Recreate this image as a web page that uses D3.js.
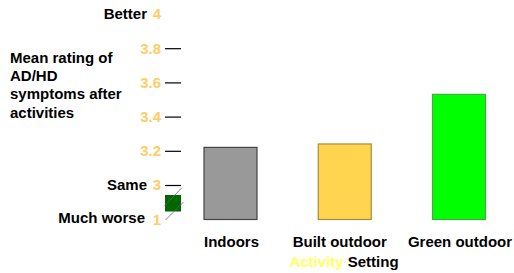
<!DOCTYPE html>
<html><head><meta charset="utf-8">
<script src="https://cdn.jsdelivr.net/npm/d3@7"></script>
<style>body{margin:0;background:#fff}svg{display:block}text{font-family:"Liberation Sans",Arial,sans-serif;font-weight:bold;font-size:15px}</style>
</head><body>
<script>
const categories = ["Indoors", "Built outdoor", "Green outdoor"];
const values = [3.22, 3.24, 3.53];
const barColors = ["#999999", "#FFD54F", "#00FF00"];
const barStrokes = ["#444444", "#A88A3A", "#44AA44"];
const tickValues = [3, 3.2, 3.4, 3.6, 3.8];
const endLabels = [{v: 4, word: "Better"}, {v: 3, word: "Same"}, {v: 1, word: "Much worse"}];
const yTitle = ["Mean rating of", "AD/HD", "symptoms after", "activities"];

const W = 514, H = 273;
const svg = d3.select("body").append("svg").attr("width", W).attr("height", H);

// piecewise (broken) axis: 1 at baseline, 3..4 linear
const y = d3.scaleLinear().domain([1, 3, 4]).range([219.5, 185, 14]);
const x = d3.scalePoint().domain(categories).range([230.5, 459]);
const bw = 53;
const labelShift = [1, -5, 1];

// tick lines
const axis = d3.axisLeft(y).tickValues(tickValues).tickSize(16).tickFormat(d3.format(".1f"));
const ag = svg.append("g").attr("transform", "translate(181,0)").call(axis);
ag.select(".domain").remove();
ag.selectAll(".tick line").attr("stroke", "#000").attr("stroke-width", 1.2);
ag.selectAll(".tick text").remove();

// numeric tick labels
const labVals = [4, 3.8, 3.6, 3.4, 3.2, 3, 1];
svg.append("g").selectAll("text").data(labVals).join("text")
  .attr("x", 161).attr("y", d => y(d)).attr("dy", "0.36em")
  .attr("text-anchor", "end").attr("fill", "#FFCC66")
  .text(d => (d === 4 || d === 3 || d === 1) ? d3.format("d")(d) : d3.format(".1f")(d));

// end words
svg.append("g").selectAll("text").data(endLabels).join("text")
  .attr("x", d => d.v === 1 ? 145 : 147).attr("y", d => y(d.v)).attr("dy", d => d.v === 1 ? "0.2em" : "0.3em")
  .attr("text-anchor", "end").attr("fill", "#000").text(d => d.word);

// axis break symbol
svg.append("rect").attr("x", 165).attr("y", 195).attr("width", 16).attr("height", 16.5).attr("fill", "#006600");
svg.append("line").attr("x1", 164.5).attr("y1", 206).attr("x2", 182).attr("y2", 187.5).attr("stroke", "#666").attr("stroke-width", 0.8);
svg.append("line").attr("x1", 165.5).attr("y1", 220).attr("x2", 183.5).attr("y2", 202).attr("stroke", "#666").attr("stroke-width", 0.8);

// y title
svg.append("g").selectAll("text").data(yTitle).join("text")
  .attr("x", 10).attr("y", (d, i) => 63 + i * 18.2).attr("fill", "#000").text(d => d);

// bars
svg.append("g").selectAll("rect").data(values).join("rect")
  .attr("x", (d, i) => x(categories[i]) - bw / 2)
  .attr("y", d => y(d))
  .attr("width", bw)
  .attr("height", d => y(1) - y(d))
  .attr("fill", (d, i) => barColors[i])
  .attr("stroke", (d, i) => barStrokes[i]).attr("stroke-width", 1.2);

// category labels
svg.append("g").selectAll("text").data(categories).join("text")
  .attr("x", (d, i) => x(d) + labelShift[i]).attr("y", 247).attr("text-anchor", "middle").attr("fill", "#000").text(d => d);

// x title
const xt = svg.append("text").attr("x", 344).attr("y", 267).attr("text-anchor", "middle");
xt.append("tspan").attr("fill", "#FFFF66").text("Activity");
xt.append("tspan").attr("fill", "#000").text(" Setting");
</script>
</body></html>
